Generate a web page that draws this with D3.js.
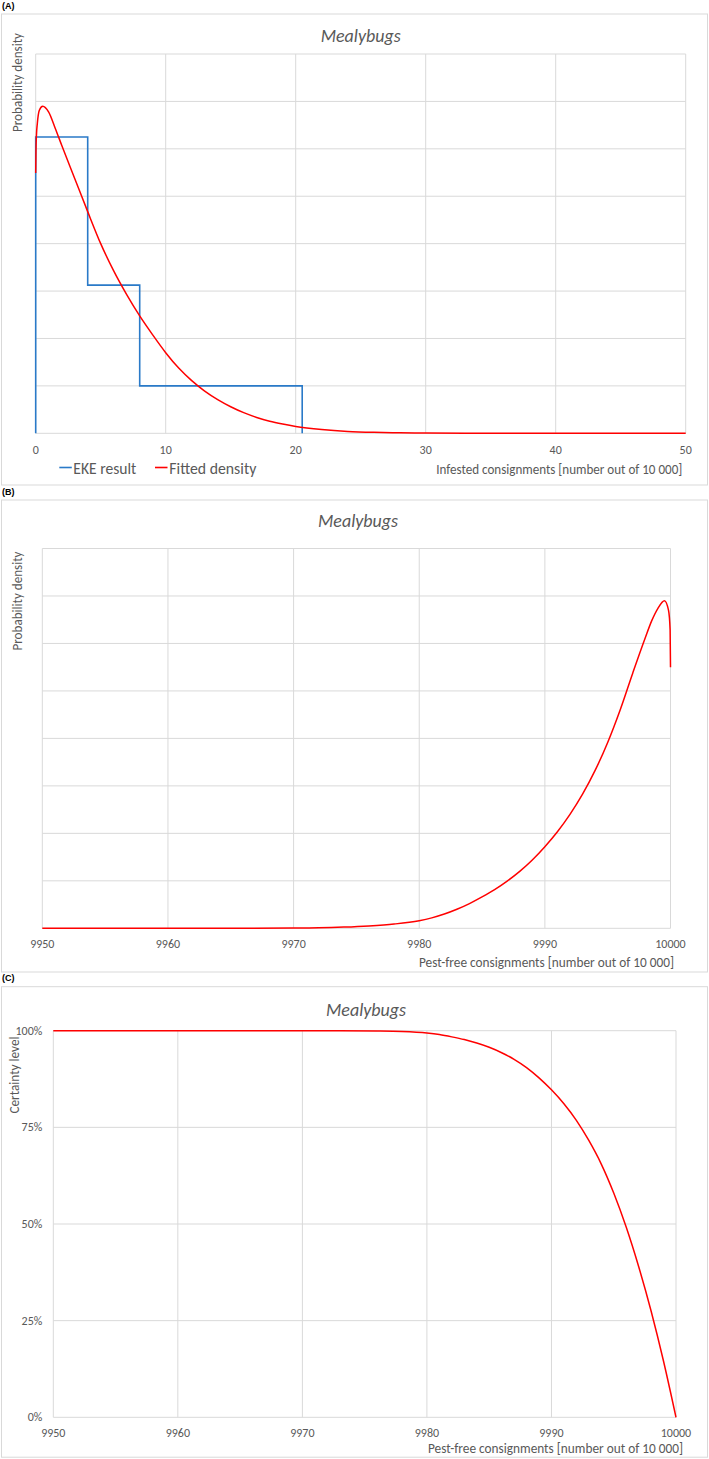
<!DOCTYPE html>
<html><head><meta charset="utf-8">
<script src="https://cdn.jsdelivr.net/npm/d3@7"></script>
<style>
body{margin:0;background:#fff}
svg text{font-family:Calibri,Carlito,Lato,sans-serif}
</style>
</head><body>
<svg id="chart" width="709" height="1459"></svg>
<script>
// ---------- data ----------
const chartTitle = "Mealybugs";
const ekeBinEdges = [0, 4, 8, 20.5];
const ekeDensity = [0.125, 0.0625, 0.02];

const infestedX = [0, 0.02, 0.06, 0.125, 0.28, 0.54, 1, 1.5, 2, 3, 4, 5, 6, 7, 8, 9, 10, 11, 12, 13, 14, 15, 16, 17, 18, 19, 20, 22, 24, 26, 28, 30, 35, 50];
const fittedDensityA = [0.1098, 0.119, 0.126, 0.1307, 0.1363, 0.138, 0.1355, 0.1287, 0.1215, 0.1075, 0.0935, 0.080, 0.0685, 0.0585, 0.0495, 0.0415, 0.0340, 0.0275, 0.0222, 0.0178, 0.0142, 0.0112, 0.0087, 0.0067, 0.0051, 0.0039, 0.0029, 0.0016, 0.0008, 0.0004, 0.0002, 0.0001, 0, 0];

const pestFreeXB = [9950, 9960, 9965, 9970, 9972, 9974, 9976, 9978, 9980, 9981, 9982, 9983, 9984, 9985, 9986, 9987, 9988, 9989, 9990, 9991, 9992, 9993, 9994, 9995, 9996, 9997, 9998, 9998.5, 9999, 9999.52, 9999.84, 9999.97, 10000];
const fittedDensityB = [0, 0, 0.00003, 0.0001, 0.0002, 0.0005, 0.0010, 0.0018, 0.0032, 0.0044, 0.0060, 0.0080, 0.0104, 0.0132, 0.0163, 0.0199, 0.0240, 0.0288, 0.0344, 0.0407, 0.0480, 0.0565, 0.0665, 0.0783, 0.0921, 0.1076, 0.1225, 0.1295, 0.1348, 0.138, 0.134, 0.1257, 0.110];

const pestFreeXC = [9950, 9960, 9970, 9973, 9976, 9978, 9980, 9981, 9982, 9983, 9984, 9985, 9986, 9987, 9988, 9989, 9990, 9991, 9992, 9993, 9994, 9995, 9996, 9997, 9998, 9999, 10000];
const certaintyC = [1, 1, 1, 0.9999, 0.9993, 0.998, 0.994, 0.990, 0.984, 0.977, 0.968, 0.957, 0.943, 0.926, 0.9045, 0.878, 0.847, 0.811, 0.768, 0.716, 0.655, 0.580, 0.492, 0.390, 0.275, 0.145, 0];

const xTicksA = [0, 10, 20, 30, 40, 50];
const xTicksBC = [9950, 9960, 9970, 9980, 9990, 10000];
const yGridDensity = [0, 0.02, 0.04, 0.06, 0.08, 0.1, 0.12, 0.14, 0.16];
const yTicksC = [0, 0.25, 0.5, 0.75, 1];
const yTickLabelsC = ["0%", "25%", "50%", "75%", "100%"];

const legendLabels = ["EKE result", "Fitted density"];
const xTitleA = "Infested consignments [number out of 10 000]";
const xTitleBC = "Pest-free consignments [number out of 10 000]";
const yTitleAB = "Probability density";
const yTitleC = "Certainty level";

// ---------- styles ----------
const GRID = "#d9d9d9", TXT = "#595959", RED = "#ff0000", BLUE = "#2a7ac8";

const svg = d3.select("#chart");
svg.append("rect").attr("width", 709).attr("height", 1459).attr("fill", "#fff");

function fit(sel, w) { return sel.attr("textLength", w).attr("lengthAdjust", "spacingAndGlyphs"); }

function panel(cfg) {
  const g = svg.append("g");
  g.append("text").attr("x", 2).attr("y", cfg.letterY)
    .style("font-family", "'Liberation Sans',Arial,sans-serif").style("font-weight", "bold")
    .style("font-size", "9px").attr("fill", "#000").text(cfg.letter);
  g.append("rect").attr("x", cfg.box[0]).attr("y", cfg.box[1]).attr("width", cfg.box[2]).attr("height", cfg.box[3])
    .attr("fill", "#fff").attr("stroke", GRID).attr("stroke-width", 1);

  const x = d3.scaleLinear().domain(cfg.xDomain).range([cfg.plot.l, cfg.plot.r]);
  const y = d3.scaleLinear().domain(cfg.yDomain).range([cfg.plot.b, cfg.plot.t]);

  g.append("g").selectAll("line").data(cfg.yGrid).join("line")
    .attr("x1", cfg.plot.l).attr("x2", cfg.plot.r).attr("y1", d => y(d)).attr("y2", d => y(d))
    .attr("stroke", GRID).attr("stroke-width", 1);
  g.append("g").selectAll("line").data(cfg.xTicks).join("line")
    .attr("x1", d => x(d)).attr("x2", d => x(d)).attr("y1", cfg.plot.t).attr("y2", cfg.plot.b)
    .attr("stroke", GRID).attr("stroke-width", 1);

  g.append("g").selectAll("text").data(cfg.xTicks).join("text")
    .attr("x", d => x(d)).attr("y", cfg.tickY).attr("text-anchor", "middle")
    .attr("fill", TXT).style("font-size", "12px").text(d => d);

  if (cfg.yTicks) {
    g.append("g").selectAll("text").data(cfg.yTicks).join("text")
      .attr("x", cfg.plot.l - 11).attr("y", d => y(d) + 4).attr("text-anchor", "end")
      .attr("fill", TXT).style("font-size", "12px").text((d, i) => cfg.yTickLabels[i]);
  }

  fit(g.append("text").attr("x", cfg.titleX).attr("y", cfg.titleY).attr("text-anchor", "middle")
    .attr("fill", TXT).style("font-size", "19px").style("font-style", "italic").text(chartTitle), 80);

  fit(g.append("text").attr("x", cfg.xTitleRight).attr("y", cfg.xTitleY).attr("text-anchor", "end")
    .attr("fill", TXT).style("font-size", "13.5px").text(cfg.xTitle), cfg.xTitleW);

  fit(g.append("text").attr("transform", `translate(${cfg.yTitleX},${cfg.yTitleY}) rotate(-90)`)
    .attr("text-anchor", "middle").attr("fill", TXT).style("font-size", "14px").text(cfg.yTitle), cfg.yTitleW);

  return { g, x, y };
}

// ---------- Panel A ----------
const A = panel({
  letter: "(A)", letterY: 9, box: [1.5, 14, 706, 471],
  plot: { l: 35.7, r: 685.7, t: 54, b: 433.3 },
  xDomain: [0, 50], yDomain: [0, 0.16], xTicks: xTicksA, yGrid: yGridDensity,
  tickY: 453.5, titleX: 360.7, titleY: 42, xTitle: xTitleA, xTitleRight: 682.3, xTitleY: 474, xTitleW: 246,
  yTitle: yTitleAB, yTitleX: 22, yTitleY: 82.5, yTitleW: 99
});
{
  const pts = [[ekeBinEdges[0], 0]];
  ekeDensity.forEach((d, i) => { pts.push([ekeBinEdges[i], d], [ekeBinEdges[i + 1], d]); });
  pts.push([ekeBinEdges[ekeBinEdges.length - 1], 0]);
  A.g.append("path").attr("d", d3.line().x(d => A.x(d[0])).y(d => A.y(d[1]))(pts))
    .attr("fill", "none").attr("stroke", BLUE).attr("stroke-width", 1.6);
  const line = d3.line().x((d, i) => A.x(infestedX[i])).y(d => A.y(d)).curve(d3.curveMonotoneX);
  A.g.append("path").attr("d", line(fittedDensityA)).attr("fill", "none").attr("stroke", RED).attr("stroke-width", 1.5);

  const leg = A.g.append("g");
  const items = [{ c: BLUE, x1: 59.3, tx: 73.3, w: 63 }, { c: RED, x1: 155, tx: 169.3, w: 87 }];
  items.forEach((it, i) => {
    leg.append("line").attr("x1", it.x1).attr("x2", it.x1 + 12.5).attr("y1", 467.5).attr("y2", 467.5)
      .attr("stroke", it.c).attr("stroke-width", 1.6);
    fit(leg.append("text").attr("x", it.tx).attr("y", 473.5).attr("fill", TXT).style("font-size", "15.5px")
      .text(legendLabels[i]), it.w);
  });
}

// ---------- Panel B ----------
const B = panel({
  letter: "(B)", letterY: 495, box: [1.5, 500, 706, 472],
  plot: { l: 42.3, r: 670.5, t: 548.5, b: 928.3 },
  xDomain: [9950, 10000], yDomain: [0, 0.16], xTicks: xTicksBC, yGrid: yGridDensity,
  tickY: 948, titleX: 358, titleY: 527, xTitle: xTitleBC, xTitleRight: 674, xTitleY: 966.5, xTitleW: 255,
  yTitle: yTitleAB, yTitleX: 22, yTitleY: 601, yTitleW: 99
});
{
  const line = d3.line().x((d, i) => B.x(pestFreeXB[i])).y(d => B.y(d)).curve(d3.curveMonotoneX);
  B.g.append("path").attr("d", line(fittedDensityB)).attr("fill", "none").attr("stroke", RED).attr("stroke-width", 1.5);
}

// ---------- Panel C ----------
const C = panel({
  letter: "(C)", letterY: 981, box: [1.5, 986.7, 706, 470.5],
  plot: { l: 53.3, r: 676, t: 1030.7, b: 1417.3 },
  xDomain: [9950, 10000], yDomain: [0, 1], xTicks: xTicksBC, yGrid: yTicksC,
  yTicks: yTicksC, yTickLabels: yTickLabelsC,
  tickY: 1437, titleX: 366, titleY: 1016, xTitle: xTitleBC, xTitleRight: 683, xTitleY: 1452.5, xTitleW: 255,
  yTitle: yTitleC, yTitleX: 19, yTitleY: 1075, yTitleW: 77
});
{
  const line = d3.line().x((d, i) => C.x(pestFreeXC[i])).y(d => C.y(d)).curve(d3.curveMonotoneX);
  C.g.append("path").attr("d", line(certaintyC)).attr("fill", "none").attr("stroke", RED).attr("stroke-width", 1.5);
}
</script>
</body></html>
